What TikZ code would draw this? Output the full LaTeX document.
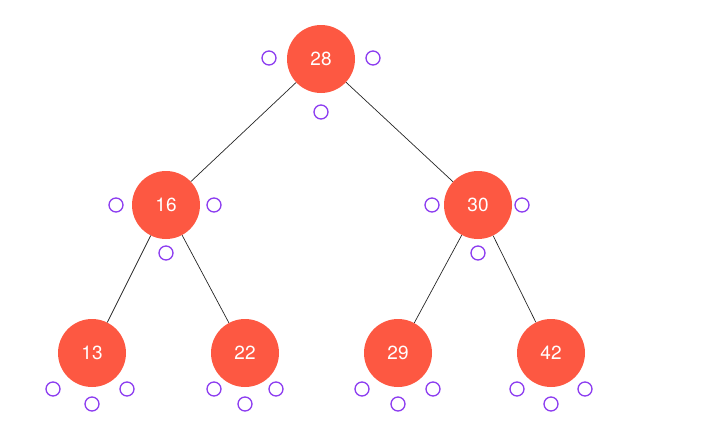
\documentclass[tikz,border=0pt]{standalone}
\usepackage{fontspec}
\setmainfont{TeX Gyre Heros}
\definecolor{nodered}{RGB}{253,88,66}
\definecolor{slotpurple}{RGB}{140,60,240}
\begin{document}
\begin{tikzpicture}[x=1pt,y=-1pt,
  key/.style={circle,fill=nodered,draw=none,minimum size=68pt,inner sep=0pt,text=white,font=\fontsize{19}{19}\selectfont},
  slot/.style={circle,draw=slotpurple,line width=1.3pt,fill=white,minimum size=14pt,inner sep=0pt},
  edge/.style={draw=black!85,line width=0.7pt}]
\useasboundingbox (0,0) rectangle (720,423);
% keys
\node[key] (n28) at (321,59) {28};
\node[key] (n16) at (166,205) {16};
\node[key] (n30) at (478,205) {30};
\node[key] (n13) at (92,353) {13};
\node[key] (n22) at (245,353) {22};
\node[key] (n29) at (398,353) {29};
\node[key] (n42) at (551,353) {42};
% edges
\draw[edge] (n28) -- (n16);
\draw[edge] (n28) -- (n30);
\draw[edge] (n16) -- (n13);
\draw[edge] (n16) -- (n22);
\draw[edge] (n30) -- (n29);
\draw[edge] (n30) -- (n42);
% slots
\node[slot] (s28l) at (269,58) {};
\node[slot] (s28r) at (373,58) {};
\node[slot] (s28b) at (321,112) {};
\node[slot] (s16l) at (116,205) {};
\node[slot] (s16r) at (214,205) {};
\node[slot] (s16b) at (166,253) {};
\node[slot] (s30l) at (432,205) {};
\node[slot] (s30r) at (522,205) {};
\node[slot] (s30b) at (478,253) {};
\node[slot] (s13l) at (53,389) {};
\node[slot] (s13b) at (92,404) {};
\node[slot] (s13r) at (127,389) {};
\node[slot] (s22l) at (214,389) {};
\node[slot] (s22b) at (245,404) {};
\node[slot] (s22r) at (276,389) {};
\node[slot] (s29l) at (362,389) {};
\node[slot] (s29b) at (398,404) {};
\node[slot] (s29r) at (433,389) {};
\node[slot] (s42l) at (517,389) {};
\node[slot] (s42b) at (551,404) {};
\node[slot] (s42r) at (585,389) {};
\end{tikzpicture}
\end{document}
